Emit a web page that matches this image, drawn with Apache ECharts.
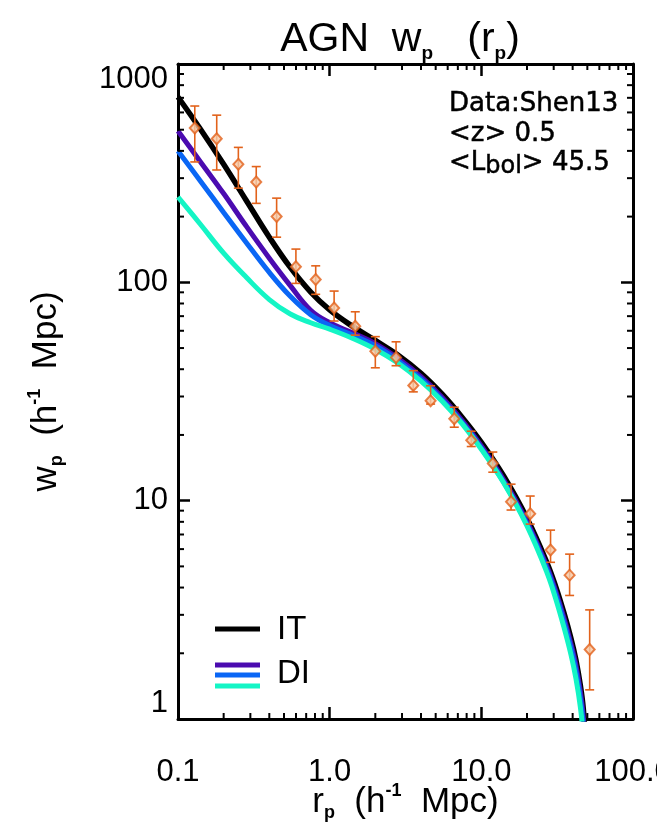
<!DOCTYPE html>
<html><head><meta charset="utf-8">
<script src="https://cdn.jsdelivr.net/npm/echarts@6/dist/echarts.min.js"></script>
<style>html,body{margin:0;padding:0;background:#fff}#c{width:657px;height:823px}</style>
</head><body><div id="c"></div><script>
// model grid (r_p, h^-1 Mpc)
const rGrid = [0.1, 0.14, 0.2, 0.28, 0.4, 0.55, 0.75, 1.0, 1.4, 2.0, 2.8, 4.0, 5.5, 7.5, 10, 14, 20, 27, 31, 35, 39, 42, 45, 47, 48.5, 49.5];
const wpIT  = [706, 505, 347, 239, 161, 117, 90.2, 74.8, 63.2, 54.2, 46.6, 38.3, 30.8, 24.0, 18.5, 13.0, 8.3, 5.22, 4.02, 3.07, 2.34, 1.87, 1.42, 1.12, 0.81, 0.51];
const wpDI1 = [493, 358, 255, 182, 129, 96.6, 74.5, 65.3, 58.9, 52.4, 45.0, 37.0, 29.8, 23.2, 17.8, 12.5, 8.02, 5.02, 3.84, 2.92, 2.21, 1.77, 1.33, 1.03, 0.74, 0.47];
const wpDI2 = [399, 292, 209, 153, 111, 86.3, 71.1, 63.4, 57.5, 51.2, 44.0, 36.1, 29.1, 22.7, 17.4, 12.2, 7.8, 4.88, 3.71, 2.80, 2.11, 1.67, 1.24, 0.955, 0.676, 0.417];
const wpDI3 = [246, 185, 136, 106, 83.4, 71.6, 65.3, 61.0, 55.6, 49.4, 42.8, 35.3, 28.6, 22.4, 17.2, 12.1, 7.66, 4.71, 3.54, 2.64, 1.97, 1.54, 1.13, 0.83, 0.51, 0.32];
// Shen13 data
const dataR  = [0.129, 0.18, 0.25, 0.328, 0.447, 0.599, 0.809, 1.07, 1.475, 2.0, 2.74, 3.56, 4.63, 6.63, 8.58, 11.9, 15.7, 21.0, 28.6, 38.2, 51.8];
const dataW  = [509, 455, 347, 288, 200, 118, 103, 76.3, 63.0, 48.4, 45.3, 33.7, 28.7, 23.7, 18.9, 14.8, 9.89, 8.71, 5.94, 4.56, 2.08];
const dataHi = [642, 583, 415, 339, 243, 142, 119, 91.2, 73.3, 56.4, 53.4, 39.4, 33.6, 26.8, 20.8, 16.7, 11.9, 10.5, 7.33, 5.69, 3.16];
const dataLo = [356, 327, 270, 230, 161, 98.9, 88.1, 66.5, 57.3, 40.6, 41.5, 31.5, 27.7, 21.7, 17.7, 13.5, 9.06, 7.81, 5.22, 3.68, 1.36];
// ticks
const xTickLabels = ['0.1', '1.0', '10.0', '100.0'];
const yTickLabels = ['1', '10', '100', '1000'];
const xMinor = [0.2,0.3,0.4,0.5,0.6,0.7,0.8,0.9,2,3,4,5,6,7,8,9,20,30,40,50,60,70,80,90];
const yMinor = [2,3,4,5,6,7,8,9,20,30,40,50,60,70,80,90,200,300,400,500,600,700,800,900];

const FONT = 'Liberation Sans';
const ORANGE = '#E2621B';
const C_IT = '#000000', C1 = '#4B0BB0', C2 = '#0A66F5', C3 = '#14F5C5';

const chart = echarts.init(document.getElementById('c'), null, {renderer: 'canvas'});
const zip = (a, b) => a.map((v, i) => [v, b[i]]);
const decIdx = v => Math.round(Math.log10(v));

const axCommon = {
  type: 'log', logBase: 10,
  axisLine: {show: true, onZero: false, lineStyle: {color: '#000', width: 3}},
  axisTick: {show: true, inside: true, length: 12, lineStyle: {color: '#000', width: 2.5}},
  splitLine: {show: false},
  minorTick: {show: false},
  nameMoveOverlap: false
};
const subRich = {
  m: {fontFamily: FONT, fontSize: 35, color: '#000', lineHeight: 40},
  s: {fontFamily: FONT, fontSize: 18, color: '#000', fontWeight: 'bold', lineHeight: 18, verticalAlign: 'bottom'},
  u: {fontFamily: FONT, fontSize: 18, color: '#000', fontWeight: 'bold', lineHeight: 18, verticalAlign: 'top'}
};
const lineCommon = {type: 'line', showSymbol: false, smooth: 0.4, clip: true};

const option = {
  animation: false,
  backgroundColor: '#fff',
  grid: {left: 178, top: 64, right: 24, bottom: 104, containLabel: false, outerBoundsMode: 'none'},
  xAxis: [
    Object.assign({}, axCommon, {
      min: 0.1, max: 100, position: 'bottom',
      axisLabel: {show: true, margin: 38, fontFamily: FONT, fontSize: 31, color: '#000',
        formatter: v => xTickLabels[decIdx(v) + 1]},
      name: '{m|r}{s|p}{m|  (h}{u|-1}{m|  Mpc)}', nameLocation: 'middle', nameGap: 63,
      nameTextStyle: {rich: subRich}
    }),
    Object.assign({}, axCommon, {min: 0.1, max: 100, position: 'top', axisLabel: {show: false}})
  ],
  yAxis: [
    Object.assign({}, axCommon, {
      min: 1, max: 1000, position: 'left',
      axisLabel: {show: true, margin: 10, fontFamily: FONT, fontSize: 31, color: '#000',
        verticalAlignMaxLabel: 'top', verticalAlignMinLabel: 'bottom',
        formatter: v => yTickLabels[decIdx(v)]},
      name: '{m|w}{s|p}{m|  (h}{u|-1}{m|  Mpc)}', nameLocation: 'middle', nameGap: 112, nameRotate: 90,
      nameTextStyle: {rich: subRich}
    }),
    Object.assign({}, axCommon, {min: 1, max: 1000, position: 'right', axisLabel: {show: false}})
  ],
  series: [
    Object.assign({}, lineCommon, {name: 'IT', data: zip(rGrid, wpIT), lineStyle: {color: C_IT, width: 5.5}, z: 3}),
    Object.assign({}, lineCommon, {name: 'DI1', data: zip(rGrid, wpDI1), lineStyle: {color: C1, width: 5}, z: 4}),
    Object.assign({}, lineCommon, {name: 'DI2', data: zip(rGrid, wpDI2), lineStyle: {color: C2, width: 5}, z: 5}),
    Object.assign({}, lineCommon, {name: 'DI3', data: zip(rGrid, wpDI3), lineStyle: {color: C3, width: 5}, z: 6}),
    {type: 'custom', name: 'err', z: 8,
      data: dataR.map((r, i) => [r, dataLo[i], dataHi[i]]),
      encode: {x: 0, y: [1, 2]},
      renderItem: (params, api) => {
        const lo = api.coord([api.value(0), api.value(1)]);
        const hi = api.coord([api.value(0), api.value(2)]);
        const w = 4.5;
        const st = {stroke: ORANGE, lineWidth: 1.6};
        return {type: 'group', children: [
          {type: 'line', shape: {x1: lo[0], y1: lo[1], x2: hi[0], y2: hi[1]}, style: st},
          {type: 'line', shape: {x1: lo[0] - w, y1: lo[1], x2: lo[0] + w, y2: lo[1]}, style: st},
          {type: 'line', shape: {x1: hi[0] - w, y1: hi[1], x2: hi[0] + w, y2: hi[1]}, style: st}
        ]};
      }
    },
    {type: 'scatter', name: 'Shen13', data: zip(dataR, dataW), symbol: 'diamond', symbolSize: [10, 11], z: 9,
      itemStyle: {color: '#F6C9A6', borderColor: ORANGE, borderWidth: 2}},
    {type: 'custom', name: 'xminor', z: 10, clip: false,
      data: xMinor.map(v => [v, 10]),
      renderItem: (params, api) => {
        const cs = params.coordSys;
        const p = api.coord([api.value(0), api.value(1)]);
        const st = {stroke: '#000', lineWidth: 2};
        const yb = cs.y + cs.height, yt = cs.y;
        return {type: 'group', children: [
          {type: 'line', shape: {x1: p[0], y1: yb, x2: p[0], y2: yb - 6}, style: st},
          {type: 'line', shape: {x1: p[0], y1: yt, x2: p[0], y2: yt + 6}, style: st}
        ]};
      }
    },
    {type: 'custom', name: 'yminor', z: 10, clip: false,
      data: yMinor.map(v => [1, v]),
      renderItem: (params, api) => {
        const cs = params.coordSys;
        const p = api.coord([api.value(0), api.value(1)]);
        const st = {stroke: '#000', lineWidth: 2};
        const xl = cs.x, xr = cs.x + cs.width;
        return {type: 'group', children: [
          {type: 'line', shape: {x1: xl, y1: p[1], x2: xl + 6, y2: p[1]}, style: st},
          {type: 'line', shape: {x1: xr, y1: p[1], x2: xr - 6, y2: p[1]}, style: st}
        ]};
      }
    }
  ],
  graphic: [
    {type: 'text', x: 400, y: 40, style: {
      text: '{m|AGN  w}{s|p}{m|   (r}{s|p}{m|)}', align: 'center', verticalAlign: 'middle',
      rich: {
        m: {fontFamily: FONT, fontSize: 41, fill: '#000', lineHeight: 46},
        s: {fontFamily: FONT, fontSize: 19, fill: '#000', fontWeight: 'bold', lineHeight: 19, verticalAlign: 'bottom'}
      }}},
    {type: 'text', x: 449, y: 104, style: {text: 'Data:Shen13', fontFamily: 'DejaVu Sans', fontSize: 26, fill: '#000',
      stroke: '#000', lineWidth: 0.5, verticalAlign: 'middle'}},
    {type: 'text', x: 449, y: 134, style: {text: '<z> 0.5', fontFamily: 'DejaVu Sans', fontSize: 26, fill: '#000',
      stroke: '#000', lineWidth: 0.5, verticalAlign: 'middle'}},
    {type: 'text', x: 449, y: 163, style: {text: '{a|<L}{b|bol}{a|> 45.5}', verticalAlign: 'middle',
      rich: {
        a: {fontFamily: 'DejaVu Sans', fontSize: 26, fill: '#000', stroke: '#000', lineWidth: 0.5, lineHeight: 32},
        b: {fontFamily: 'DejaVu Sans', fontSize: 24, fill: '#000', stroke: '#000', lineWidth: 0.5, lineHeight: 24, verticalAlign: 'bottom'}
      }}},
    // legend
    {type: 'line', shape: {x1: 215, y1: 629, x2: 260, y2: 629}, style: {stroke: C_IT, lineWidth: 5}},
    {type: 'text', x: 277, y: 630, style: {text: 'IT', fontFamily: FONT, fontSize: 33, fill: '#000', verticalAlign: 'middle'}},
    {type: 'line', shape: {x1: 215, y1: 665, x2: 260, y2: 665}, style: {stroke: C1, lineWidth: 5}},
    {type: 'line', shape: {x1: 215, y1: 675, x2: 260, y2: 675}, style: {stroke: C2, lineWidth: 5}},
    {type: 'line', shape: {x1: 215, y1: 686, x2: 260, y2: 686}, style: {stroke: C3, lineWidth: 5}},
    {type: 'text', x: 277, y: 674, style: {text: 'DI', fontFamily: FONT, fontSize: 33, fill: '#000', verticalAlign: 'middle'}}
  ]
};
chart.setOption(option);
</script></body></html>
